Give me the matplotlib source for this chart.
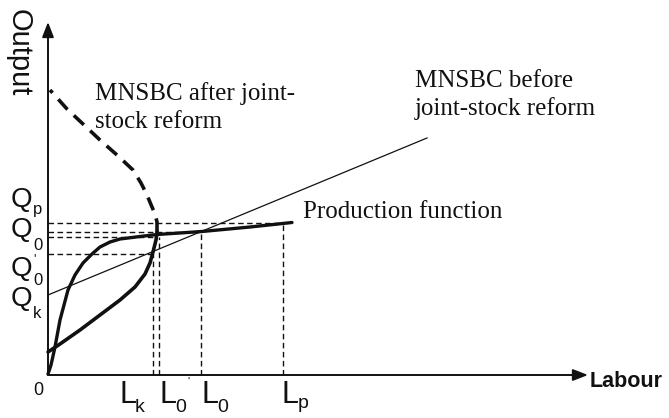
import matplotlib
matplotlib.use("Agg")
import matplotlib.pyplot as plt

# ---- data (diagram units: labour on x, output on y) ----
prod_L = [0, 3, 7, 12, 20, 27, 35, 44, 52, 62, 72, 92, 109, 154, 202, 244]
prod_Q = [1, 10, 28, 55, 85, 100, 112, 121, 128, 133, 136, 138.5, 140.5, 143.5, 148, 152.5]

after_solid_L = [0, 12, 32, 52, 72, 87, 97, 102, 105, 108, 109]
after_solid_Q = [23, 31, 45, 60, 75, 88, 101, 112, 123, 135, 143]

after_dash_L = [109, 109, 107, 104, 99, 93, 85, 69, 52, 35, 19, 2]
after_dash_Q = [143, 153, 161, 168, 180, 192, 205, 220, 235, 251, 266, 285]

before_L = [0, 379]
before_Q = [80, 237]

L_k, L0_prime, L_0, L_p = 105, 111, 153, 235
Q_p, Q_0, Q_0b, Q_0prime, Q_k = 152, 143.5, 138.5, 121, 80

fig = plt.figure(figsize=(6.69, 4.18), dpi=100)
ax = fig.add_axes([0, 0, 1, 1])
ax.set_xlim(-48, 621)
ax.set_ylim(-43, 375)
ax.axis("off")

ink = "#111111"

# axes with arrows
ax.annotate("", xy=(0, 353), xytext=(0, 0),
            arrowprops=dict(arrowstyle="-|>,head_length=0.9,head_width=0.35",
                            color=ink, lw=1.4, shrinkA=0, shrinkB=0))
ax.annotate("", xy=(540, 0), xytext=(0, 0),
            arrowprops=dict(arrowstyle="-|>,head_length=0.9,head_width=0.35",
                            color=ink, lw=1.4, shrinkA=0, shrinkB=0))

# dashed guide lines
gkw = dict(color=ink, lw=1.0, ls=(0, (4, 2.5)))
ax.plot([0, L_p], [Q_p, Q_p], **gkw)
ax.plot([0, L_0], [Q_0, Q_0], **gkw)
ax.plot([0, 109], [Q_0b, Q_0b], **gkw)
ax.plot([0, 107], [Q_0prime, Q_0prime], **gkw)
ax.plot([L_k, L_k], [0, Q_0prime], **gkw)
ax.plot([L0_prime, L0_prime], [0, Q_0b], **gkw)
ax.plot([L_0, L_0], [0, Q_0], **gkw)
ax.plot([L_p, L_p], [0, Q_p], **gkw)

# MNSBC before (thin straight line)
ax.plot(before_L, before_Q, color=ink, lw=0.9)

# production function
ax.plot(prod_L, prod_Q, color=ink, lw=2.4, solid_capstyle="round", solid_joinstyle="round")

# MNSBC after (solid part + dashed part)
ax.plot(after_solid_L, after_solid_Q, color=ink, lw=2.6, solid_capstyle="round", solid_joinstyle="round")
ax.plot(after_dash_L, after_dash_Q, color=ink, lw=2.6, ls=(0, (3.8, 2.4)))

# annotations (serif)
serif = dict(family="Liberation Serif", fontsize=18, color=ink, va="baseline", ha="left")
ax.text(47, 275, "MNSBC after joint-", **serif)
ax.text(47, 247, "stock reform", **serif)
ax.text(367, 288, "MNSBC before", **serif)
ax.text(367, 260, "joint-stock reform", **serif)
ax.text(255, 157, "Production function", **serif)

# axis labels
sans = "Liberation Sans"
ax.text(-29, 322, "Output", family=sans, fontsize=21, color=ink, rotation=-90,
        ha="center", va="center")
ax.text(542, -12, "Labour", family=sans, fontsize=15.5, fontweight="bold", color=ink,
        ha="left", va="baseline")
ax.text(-15, -20, "0", family=sans, fontsize=13, color=ink, ha="left", va="baseline")

# Q labels
qkw = dict(family=sans, fontsize=20, color=ink, ha="left", va="baseline")
skw = dict(family=sans, fontsize=12, color=ink, ha="left", va="baseline")
ax.text(-37, 168, "Q", **qkw); ax.text(-15, 161, "p", **skw)
ax.text(-37, 138, "Q", **qkw); ax.text(-15, 125, "0", **skw)
ax.text(-37, 99, "Q", **qkw); ax.text(-15, 90, "0", **skw)
ax.text(-15, 122, "'", family=sans, fontsize=9, color=ink, ha="left", va="top")
ax.text(-37, 69, "Q", **qkw); ax.text(-15, 57, "k", **skw)

# L labels
lkw = dict(family=sans, fontsize=22, color=ink, ha="left", va="baseline")
lskw = dict(family=sans, fontsize=14, color=ink, ha="left", va="baseline")
ax.text(71, -28, "L", **lkw); ax.text(87, -37, "k", **lskw)
ax.text(111, -28, "L", **lkw); ax.text(127, -37, "0", **lskw)
ax.text(153, -28, "L", **lkw); ax.text(169, -37, "0", **lskw)
ax.text(234, -28, "L", **lkw); ax.text(250, -33, "p", **lskw)
ax.text(140, -2, "'", family=sans, fontsize=8, color=ink, ha="center", va="top")

fig.savefig("out.png", dpi=100)
